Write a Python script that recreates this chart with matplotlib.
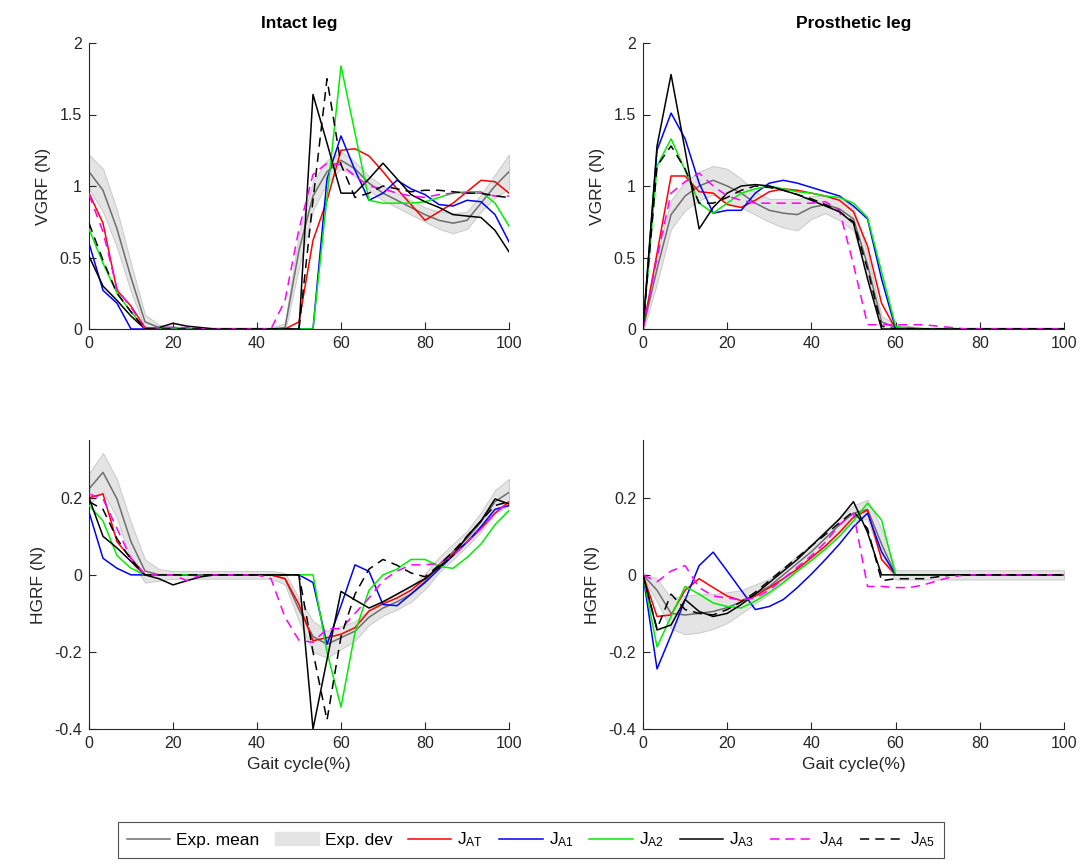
import numpy as np
import matplotlib
matplotlib.use("Agg")
import matplotlib.pyplot as plt
from matplotlib.patches import Patch
from matplotlib.lines import Line2D
from matplotlib.ticker import FuncFormatter

plt.rcParams["font.family"] = ["Liberation Sans", "DejaVu Sans"]
plt.rcParams["mathtext.default"] = "regular"
plt.rcParams["axes.unicode_minus"] = False

# gait cycle sample points (%)
gait = np.linspace(0, 100, 31)

# ---------------- vertical GRF, intact leg ----------------
vgrf_int_mean = [1.10, 0.97, 0.70, 0.36, 0.05, 0.01, 0.01, 0.0, 0.0, 0.0, 0.0, 0.0, 0.0, 0.0,
                 0.01, 0.55, 0.93, 1.10, 1.18, 1.12, 1.02, 0.95, 0.90, 0.85, 0.80, 0.76, 0.74,
                 0.76, 0.88, 1.00, 1.10]
vgrf_int_std = [0.12, 0.15, 0.13, 0.10, 0.05, 0.02, 0.01, 0.01, 0.01, 0.01, 0.01, 0.01, 0.01,
                0.01, 0.03, 0.12, 0.10, 0.08, 0.06, 0.05, 0.05, 0.05, 0.05, 0.05, 0.05, 0.06,
                0.07, 0.06, 0.06, 0.08, 0.12]
vgrf_int_AT = [0.95, 0.74, 0.27, 0.16, 0.01, 0, 0, 0, 0, 0, 0, 0, 0, 0, 0.0, 0.05, 0.62, 0.90,
               1.25, 1.26, 1.21, 1.10, 0.98, 0.87, 0.76, 0.82, 0.88, 0.96, 1.04, 1.03, 0.95]
vgrf_int_A1 = [0.60, 0.27, 0.18, 0.0, 0, 0, 0, 0, 0, 0, 0, 0, 0, 0, 0, 0, 0, 1.05, 1.35, 1.11,
               0.90, 0.95, 1.04, 0.98, 0.94, 0.87, 0.86, 0.90, 0.89, 0.80, 0.61]
vgrf_int_A2 = [0.70, 0.46, 0.25, 0.12, 0.0, 0, 0, 0, 0, 0, 0, 0, 0, 0, 0, 0, 0, 0.92, 1.84, 1.37,
               0.90, 0.88, 0.88, 0.88, 0.89, 0.92, 0.95, 0.96, 0.96, 0.88, 0.72]
vgrf_int_A3 = [0.51, 0.30, 0.20, 0.09, 0.0, 0.01, 0.04, 0.02, 0.01, 0, 0, 0, 0, 0, 0, 0, 1.64,
               1.30, 0.95, 0.95, 1.05, 1.16, 1.05, 0.94, 0.89, 0.85, 0.80, 0.79, 0.78, 0.69, 0.54]
vgrf_int_A4 = [0.94, 0.68, 0.28, 0.15, 0.0, 0.01, 0.01, 0.01, 0, 0, 0, 0, 0, 0.0, 0.2, 0.7, 1.08,
               1.16, 1.15, 1.07, 1.0, 0.98, 0.95, 0.93, 0.92, 0.94, 0.95, 0.95, 0.95, 0.93, 0.93]
vgrf_int_A5 = [0.74, 0.48, 0.25, 0.12, 0.0, 0, 0, 0, 0, 0, 0, 0, 0, 0, 0, 0.0, 0.9, 1.75, 1.15,
               0.92, 0.95, 1.0, 0.98, 0.96, 0.97, 0.97, 0.96, 0.95, 0.95, 0.93, 0.92]

# ---------------- vertical GRF, prosthetic leg ----------------
vgrf_pro_mean = [0.0, 0.42, 0.80, 0.93, 1.0, 1.04, 1.0, 0.95, 0.88, 0.83, 0.81, 0.80, 0.85,
                 0.87, 0.84, 0.77, 0.45, 0.05, 0.01, 0.01, 0, 0, 0, 0, 0, 0, 0, 0, 0, 0, 0]
vgrf_pro_std = [0.02, 0.10, 0.10, 0.10, 0.10, 0.10, 0.12, 0.10, 0.08, 0.08, 0.10, 0.11, 0.08,
                0.06, 0.08, 0.08, 0.08, 0.04, 0.02, 0.01, 0.01, 0.01, 0.01, 0.01, 0.01, 0.01,
                0.01, 0.01, 0.01, 0.01, 0.01]
vgrf_pro_AT = [0.0, 0.53, 1.07, 1.07, 0.96, 0.95, 0.87, 0.85, 0.90, 0.96, 0.98, 0.97, 0.95, 0.93,
               0.90, 0.82, 0.58, 0.18, 0.0, 0, 0, 0, 0, 0, 0, 0, 0, 0, 0, 0, 0]
vgrf_pro_A1 = [0.0, 1.25, 1.51, 1.33, 1.02, 0.81, 0.83, 0.83, 0.95, 1.02, 1.04, 1.02, 0.99, 0.96,
               0.93, 0.86, 0.77, 0.35, 0.0, 0, 0, 0, 0, 0, 0, 0, 0, 0, 0, 0, 0]
vgrf_pro_A2 = [0.0, 1.14, 1.33, 1.11, 0.88, 0.81, 0.88, 0.95, 0.98, 1.0, 0.98, 0.96, 0.95, 0.93,
               0.92, 0.88, 0.78, 0.40, 0.02, 0, 0, 0, 0, 0, 0, 0, 0, 0, 0, 0, 0]
vgrf_pro_A3 = [0.0, 1.28, 1.78, 1.25, 0.70, 0.85, 0.95, 1.0, 1.01, 1.0, 0.97, 0.94, 0.90, 0.86,
               0.82, 0.74, 0.35, 0.0, 0.0, 0, 0, 0, 0, 0, 0, 0, 0, 0, 0, 0, 0]
vgrf_pro_A4 = [0.0, 0.50, 0.95, 1.03, 1.09, 1.0, 0.93, 0.90, 0.88, 0.88, 0.88, 0.88, 0.88, 0.89,
               0.83, 0.45, 0.03, 0.03, 0.03, 0.03, 0.03, 0.02, 0.01, 0, 0, 0, 0, 0, 0, 0, 0]
vgrf_pro_A5 = [0.0, 1.14, 1.28, 1.12, 0.88, 0.88, 0.92, 0.97, 1.0, 0.99, 0.97, 0.94, 0.91, 0.87,
               0.82, 0.75, 0.42, 0.02, 0.0, 0, 0, 0, 0, 0, 0, 0, 0, 0, 0, 0, 0]

# ---------------- horizontal GRF, intact leg ----------------
hgrf_int_mean = [0.223, 0.266, 0.197, 0.086, 0.01, 0, 0, 0, 0, 0, 0, 0, 0, 0, -0.01, -0.09,
                 -0.16, -0.18, -0.163, -0.146, -0.11, -0.086, -0.07, -0.05, -0.017, 0.026, 0.06,
                 0.094, 0.137, 0.19, 0.214]
hgrf_int_std = [0.04, 0.05, 0.05, 0.05, 0.03, 0.015, 0.01, 0.01, 0.01, 0.01, 0.01, 0.01, 0.01,
                0.01, 0.015, 0.03, 0.04, 0.035, 0.03, 0.025, 0.02, 0.02, 0.02, 0.02, 0.02, 0.02,
                0.02, 0.02, 0.025, 0.03, 0.035]
hgrf_int_AT = [0.20, 0.21, 0.086, 0.043, 0.0, 0, 0, 0, 0, 0, 0, 0, 0, 0, -0.01, -0.077, -0.171,
               -0.163, -0.154, -0.137, -0.094, -0.075, -0.06, -0.04, -0.01, 0.02, 0.055, 0.085,
               0.12, 0.16, 0.19]
hgrf_int_A1 = [0.163, 0.043, 0.017, 0.0, 0, 0, 0, 0, 0, 0, 0, 0, 0, 0, 0, 0, -0.02, -0.18, -0.08,
               0.026, 0.009, -0.077, -0.08, -0.05, -0.02, 0.015, 0.05, 0.085, 0.125, 0.17, 0.18]
hgrf_int_A2 = [0.18, 0.14, 0.05, 0.017, 0.0, 0, 0, 0, 0, 0, 0, 0, 0, 0, 0, 0, 0, -0.20, -0.343,
               -0.15, -0.04, 0.0, 0.015, 0.04, 0.04, 0.022, 0.017, 0.045, 0.08, 0.13, 0.167]
hgrf_int_A3 = [0.20, 0.10, 0.07, 0.035, 0.0, -0.01, -0.026, -0.015, -0.005, 0.0, 0, 0, 0, 0, 0,
               0, -0.40, -0.22, -0.043, -0.065, -0.086, -0.07, -0.05, -0.03, -0.01, 0.02, 0.05,
               0.10, 0.14, 0.197, 0.184]
hgrf_int_A4 = [0.21, 0.197, 0.12, 0.043, 0.0, 0.0, 0.0, -0.015, 0.0, 0, 0, 0, 0, -0.01, -0.11,
               -0.17, -0.175, -0.14, -0.14, -0.10, -0.06, -0.015, 0.01, 0.026, 0.026, 0.03, 0.05,
               0.085, 0.12, 0.16, 0.19]
hgrf_int_A5 = [0.19, 0.17, 0.094, 0.04, 0.0, 0, 0, 0, 0, 0, 0, 0, 0, 0, 0, 0, -0.20, -0.377,
               -0.16, -0.05, 0.015, 0.04, 0.025, 0.005, -0.005, 0.025, 0.06, 0.10, 0.14, 0.18, 0.19]

# ---------------- horizontal GRF, prosthetic leg ----------------
hgrf_pro_mean = [0.0, -0.04, -0.10, -0.104, -0.10, -0.095, -0.085, -0.07, -0.05, -0.03, 0.0,
                 0.03, 0.06, 0.095, 0.13, 0.16, 0.17, 0.08, 0.0, 0, 0, 0, 0, 0, 0, 0, 0, 0, 0, 0, 0]
hgrf_pro_std = [0.005, 0.03, 0.04, 0.05, 0.05, 0.045, 0.04, 0.03, 0.025, 0.02, 0.02, 0.02, 0.02,
                0.02, 0.02, 0.02, 0.025, 0.04, 0.012, 0.012, 0.012, 0.012, 0.012, 0.012, 0.012,
                0.012, 0.012, 0.012, 0.012, 0.012, 0.012]
hgrf_pro_AT = [0.0, -0.108, -0.104, -0.04, -0.01, -0.033, -0.055, -0.067, -0.055, -0.033, -0.01,
               0.015, 0.045, 0.075, 0.11, 0.15, 0.168, 0.04, 0.0, 0, 0, 0, 0, 0, 0, 0, 0, 0, 0, 0, 0]
hgrf_pro_A1 = [0.0, -0.244, -0.156, -0.065, 0.024, 0.059, 0.01, -0.04, -0.09, -0.082, -0.064,
               -0.033, 0.002, 0.04, 0.08, 0.125, 0.16, 0.06, 0.0, 0, 0, 0, 0, 0, 0, 0, 0, 0, 0, 0, 0]
hgrf_pro_A2 = [0.0, -0.187, -0.108, -0.03, -0.05, -0.073, -0.082, -0.086, -0.068, -0.046, -0.02,
               0.01, 0.037, 0.067, 0.10, 0.14, 0.186, 0.142, 0.0, 0, 0, 0, 0, 0, 0, 0, 0, 0, 0, 0, 0]
hgrf_pro_A3 = [0.0, -0.143, -0.13, -0.064, -0.095, -0.108, -0.10, -0.077, -0.05, -0.02, 0.01,
               0.04, 0.075, 0.11, 0.145, 0.19, 0.11, 0.0, 0.0, 0, 0, 0, 0, 0, 0, 0, 0, 0, 0, 0, 0]
hgrf_pro_A4 = [0.0, -0.018, 0.01, 0.024, -0.033, -0.055, -0.06, -0.065, -0.06, -0.04, -0.01, 0.02,
               0.05, 0.085, 0.13, 0.16, -0.03, -0.03, -0.033, -0.033, -0.026, -0.015, -0.005, 0,
               0, 0, 0, 0, 0, 0, 0]
hgrf_pro_A5 = [0.0, -0.14, -0.05, -0.09, -0.10, -0.104, -0.09, -0.07, -0.045, -0.015, 0.015,
               0.045, 0.075, 0.105, 0.135, 0.165, 0.12, -0.015, -0.01, -0.01, -0.01, -0.005, 0,
               0, 0, 0, 0, 0, 0, 0, 0]

col_titles = ["Intact leg", "Prosthetic leg"]
row_labels = ["VGRF (N)", "HGRF (N)"]
series_labels = ["Exp. mean", "Exp. dev", r"$J_{AT}$", r"$J_{A1}$", r"$J_{A2}$",
                 r"$J_{A3}$", r"$J_{A4}$", r"$J_{A5}$"]

panels = [
    [(vgrf_int_mean, vgrf_int_std, [vgrf_int_AT, vgrf_int_A1, vgrf_int_A2, vgrf_int_A3,
                                    vgrf_int_A4, vgrf_int_A5]),
     (vgrf_pro_mean, vgrf_pro_std, [vgrf_pro_AT, vgrf_pro_A1, vgrf_pro_A2, vgrf_pro_A3,
                                    vgrf_pro_A4, vgrf_pro_A5])],
    [(hgrf_int_mean, hgrf_int_std, [hgrf_int_AT, hgrf_int_A1, hgrf_int_A2, hgrf_int_A3,
                                    hgrf_int_A4, hgrf_int_A5]),
     (hgrf_pro_mean, hgrf_pro_std, [hgrf_pro_AT, hgrf_pro_A1, hgrf_pro_A2, hgrf_pro_A3,
                                    hgrf_pro_A4, hgrf_pro_A5])],
]

mean_color = "#6e6e6e"
band_face = "#e4e4e4"
band_edge = "#c9c9c9"
sim_styles = [
    dict(color="#ff0000", ls="-"),
    dict(color="#0000ff", ls="-"),
    dict(color="#00ee00", ls="-"),
    dict(color="#000000", ls="-"),
    dict(color="#ff00ff", ls=(0, (6, 4))),
    dict(color="#000000", ls=(0, (6, 4))),
]
LW = 1.1

fig = plt.figure(figsize=(10.88, 8.67), dpi=100)
W, H = 1088.0, 867.0
lefts = [89, 643]
widths = [420, 421]
tops = [43, 440]
heights = [286, 289]
ylims = [(0, 2), (-0.4, 0.35)]
yticks = [[0, 0.5, 1, 1.5, 2], [-0.4, -0.2, 0, 0.2]]

fmt = FuncFormatter(lambda v, p: "%g" % v)
spine_col = "#262626"

for r in range(2):
    for c in range(2):
        ax = fig.add_axes([lefts[c] / W, 1 - (tops[r] + heights[r]) / H,
                           widths[c] / W, heights[r] / H])
        mean, std, sims = panels[r][c]
        mean = np.asarray(mean)
        std = np.asarray(std)
        ax.fill_between(gait, mean - std, mean + std, facecolor=band_face,
                        edgecolor=band_edge, linewidth=0.7, zorder=1)
        ax.plot(gait, mean, color=mean_color, lw=LW, zorder=2)
        for ys, st in zip(sims, sim_styles):
            ax.plot(gait, ys, color=st["color"], ls=st["ls"], lw=LW, zorder=3)
        ax.set_xlim(0, 100)
        ax.set_ylim(*ylims[r])
        ax.set_xticks([0, 20, 40, 60, 80, 100])
        ax.set_yticks(yticks[r])
        ax.yaxis.set_major_formatter(fmt)
        for s in ["top", "right"]:
            ax.spines[s].set_visible(False)
        for s in ["left", "bottom"]:
            ax.spines[s].set_color(spine_col)
            ax.spines[s].set_linewidth(0.8)
        ax.tick_params(direction="in", length=5, width=0.8, colors=spine_col,
                       labelsize=11.5, labelcolor="#262626", pad=5)
        ax.set_ylabel(row_labels[r], fontsize=12.5, color="#262626", labelpad=6)
        if r == 0:
            ax.set_title(col_titles[c], fontsize=12.5, fontweight="bold", pad=11)
        else:
            ax.set_xlabel("Gait cycle(%)", fontsize=12.5, color="#262626", labelpad=4)

handles = [Line2D([], [], color=mean_color, lw=LW),
           Patch(facecolor=band_face, edgecolor=band_face)]
for st in sim_styles:
    handles.append(Line2D([], [], color=st["color"], ls=st["ls"], lw=LW))

leg = fig.legend(handles, series_labels, loc="center", ncol=8,
                 bbox_to_anchor=(531 / W, 1 - 840 / H), fontsize=12.5, frameon=True,
                 fancybox=False, edgecolor="#262626", handlelength=2.5,
                 handletextpad=0.35, columnspacing=0.9, borderpad=0.5)
leg.get_frame().set_linewidth(0.8)

fig.savefig("out.png", dpi=100)
